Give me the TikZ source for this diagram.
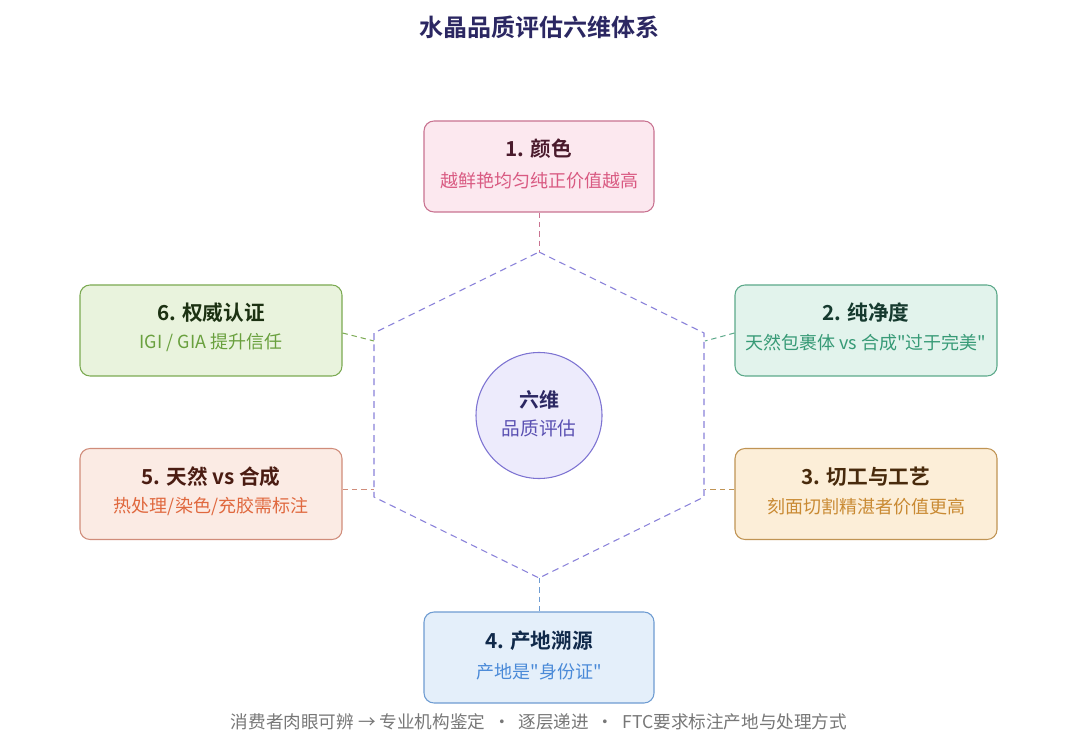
\documentclass[tikz,border=0pt]{standalone}
\usepackage{fontspec}
\setmainfont{Noto Sans CJK SC}[Ligatures=TeXOff]
\newfontfamily\cjkbold{Noto Sans CJK SC Bold}[Ligatures=TeXOff]
\definecolor{titlec}{HTML}{2B2762}
\definecolor{hexc}{HTML}{8A82DA}
\definecolor{footc}{HTML}{777777}
% box 1 pink
\definecolor{aFill}{HTML}{FCE8EF}\definecolor{aLine}{HTML}{C97391}\definecolor{aHead}{HTML}{4A1A2C}\definecolor{aSub}{HTML}{D95A82}
% box 2 teal
\definecolor{bFill}{HTML}{E2F3EC}\definecolor{bLine}{HTML}{5CA98A}\definecolor{bHead}{HTML}{163A2F}\definecolor{bSub}{HTML}{379A76}
% box 3 amber
\definecolor{cFill}{HTML}{FCEED8}\definecolor{cLine}{HTML}{C09454}\definecolor{cHead}{HTML}{482A0C}\definecolor{cSub}{HTML}{C98A33}
% box 4 blue
\definecolor{dFill}{HTML}{E4EFFA}\definecolor{dLine}{HTML}{6E9CD2}\definecolor{dHead}{HTML}{10294A}\definecolor{dSub}{HTML}{4A8AD8}
% box 5 coral
\definecolor{eFill}{HTML}{FBEBE4}\definecolor{eLine}{HTML}{D08C7A}\definecolor{eHead}{HTML}{4A1C12}\definecolor{eSub}{HTML}{E0683E}
% box 6 green
\definecolor{fFill}{HTML}{E9F3DD}\definecolor{fLine}{HTML}{7BAA52}\definecolor{fHead}{HTML}{1C3112}\definecolor{fSub}{HTML}{69A03E}
% center
\definecolor{gFill}{HTML}{EDEBFC}\definecolor{gLine}{HTML}{7D73D2}\definecolor{gHead}{HTML}{2B2762}\definecolor{gSub}{HTML}{5A50B2}
\begin{document}
\begin{tikzpicture}[x=0.75pt,y=-0.75pt,
  card/.style={draw, rounded corners=7.5pt, line width=0.8pt, minimum width=172.5pt, minimum height=68.25pt, inner sep=0pt},
  widecard/.style={card, minimum width=196.5pt},
  headtxt/.style={font=\cjkbold\fontsize{15.5pt}{18pt}\selectfont, inner sep=0pt},
  subtxt/.style={font=\fontsize{13.5pt}{16pt}\selectfont, inner sep=0pt},
  link/.style={dash pattern=on 4pt off 3pt, line width=0.75pt},
  hexline/.style={dash pattern=on 5pt off 3.5pt, line width=0.8pt, draw=hexc}]
\useasboundingbox (0,0) rectangle (1080,737);
\fill[white] (0,0) rectangle (1080,737);
% title
\node[font=\cjkbold\fontsize{18pt}{21pt}\selectfont, text=titlec, inner sep=0pt] (title) at (539,27) {水晶品质评估六维体系};
% hexagon
\coordinate (h1) at (539,252);
\coordinate (h2) at (704,333);
\coordinate (h3) at (704,497);
\coordinate (h4) at (539,578);
\coordinate (h5) at (374,497);
\coordinate (h6) at (374,333);
\draw[hexline] (h1) -- (h2) -- (h3) -- (h4) -- (h5) -- (h6) -- cycle;
\coordinate (p2) at (705,341);
\coordinate (p3) at (705,489);
\coordinate (p5) at (374,489);
\coordinate (p6) at (374,341);
% boxes
\node[card, fill=aFill, draw=aLine] (b1) at (539,166.5) {};
\node[headtxt, text=aHead] (t1) at (539,149) {1. 颜色};
\node[subtxt, text=aSub] (s1) at (539,181) {越鲜艳均匀纯正价值越高};

\node[widecard, fill=bFill, draw=bLine] (b2) at (866,330.5) {};
\node[headtxt, text=bHead] (t2) at (866,313) {2. 纯净度};
\node[subtxt, text=bSub] (s2) at (866,343) {天然包裹体 vs 合成"过于完美"};

\node[widecard, fill=cFill, draw=cLine] (b3) at (866,494) {};
\node[headtxt, text=cHead] (t3) at (866,477) {3. 切工与工艺};
\node[subtxt, text=cSub] (s3) at (866,507) {刻面切割精湛者价值更高};

\node[card, fill=dFill, draw=dLine] (b4) at (539,657.5) {};
\node[headtxt, text=dHead] (t4) at (539,641) {4. 产地溯源};
\node[subtxt, text=dSub] (s4) at (539,672) {产地是"身份证"};

\node[widecard, fill=eFill, draw=eLine] (b5) at (211,494) {};
\node[headtxt, text=eHead] (t5) at (211,477) {5. 天然 vs 合成};
\node[subtxt, text=eSub] (s5) at (211,507) {热处理/染色/充胶需标注};

\node[widecard, fill=fFill, draw=fLine] (b6) at (211,330.5) {};
\node[headtxt, text=fHead] (t6) at (211,313) {6. 权威认证};
\node[subtxt, text=fSub] (s6) at (211,343) {IGI / GIA 提升信任};
% connectors
\draw[link, draw=aLine] (b1.south) -- (h1);
\draw[link, draw=bLine] (b2.west |- 0,333) -- (p2);
\draw[link, draw=cLine] (b3.west |- 0,489) -- (p3);
\draw[link, draw=dLine] (h4) -- (b4.north);
\draw[link, draw=eLine] (b5.east |- 0,489) -- (p5);
\draw[link, draw=fLine] (b6.east |- 0,333) -- (p6);
% center
\node[circle, fill=gFill, draw=gLine, line width=0.8pt, minimum size=94.5pt, inner sep=0pt] (core) at (539,415.5) {};
\node[font=\cjkbold\fontsize{15pt}{18pt}\selectfont, text=gHead, inner sep=0pt] (ct) at (539,400) {六维};
\node[font=\fontsize{14pt}{17pt}\selectfont, text=gSub, inner sep=0pt] (cs) at (539,428) {品质评估};
% footer
\node[font=\fontsize{13.2pt}{15pt}\selectfont, text=footc, inner sep=0pt] (foot) at (539,722) {消费者肉眼可辨 → 专业机构鉴定 \ · \ 逐层递进 \ · \ FTC要求标注产地与处理方式};
\end{tikzpicture}
\end{document}
